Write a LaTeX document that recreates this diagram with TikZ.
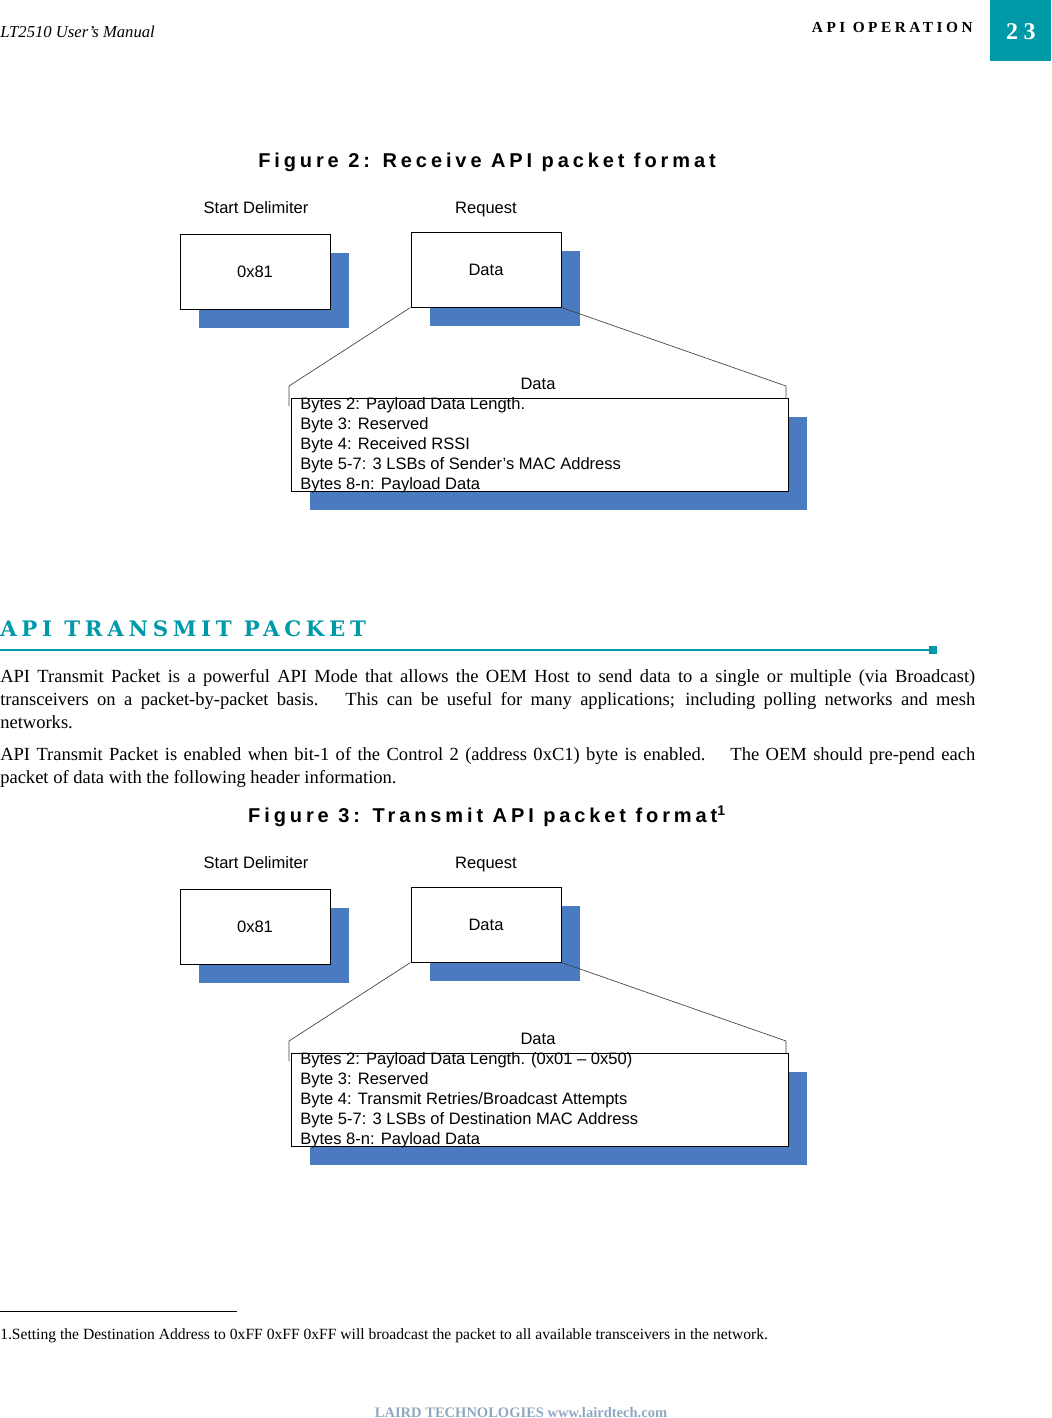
\documentclass[tikz,border=0pt]{standalone}
\usepackage{fontspec}
\setmainfont{Liberation Serif}
\setsansfont{Liberation Sans}
\newfontfamily\figtitlefont{Liberation Sans}[LetterSpace=19.5]
\newfontfamily\hdfont{Liberation Serif}[LetterSpace=23]
\newfontfamily\secfont{DejaVu Serif}[LetterSpace=22]
\definecolor{lairdteal}{RGB}{0,153,168}
\definecolor{shadowblue}{RGB}{74,123,193}
\definecolor{footgray}{RGB}{143,168,192}
\tikzset{
  shadowbox/.style={fill=shadowblue, draw=none, inner sep=0},
  whitebox/.style={fill=white, draw=black, line width=0.75pt, inner sep=0, font=\sffamily\fontsize{12.4}{15}\selectfont},
  lbl/.style={inner sep=0, font=\sffamily\fontsize{12.4}{15}\selectfont},
  conn/.style={draw=black!75, line width=0.5pt},
  figtitle/.style={inner sep=0, font=\figtitlefont\bfseries\fontsize{15}{18}\selectfont},
}
\newcommand\packetfig[4]{%
\begin{scope}[shift={(0,#2)}]
  \node[figtitle, anchor=base] (#1title) at (487,167) {#3};
  \node[lbl, anchor=base] (#1sdl) at (256,213) {Start Delimiter};
  \node[lbl, anchor=base] (#1rql) at (486,213) {Request};
  \node[shadowbox, minimum width=112.5pt, minimum height=56.25pt] (#1sdsh) at (274,290.5) {};
  \node[whitebox, minimum width=112.5pt, minimum height=56.25pt] (#1sd) at (255,271.5) {0x81};
  \node[shadowbox, minimum width=112.5pt, minimum height=56.25pt] (#1rqsh) at (505,288.5) {};
  \node[whitebox, minimum width=112.5pt, minimum height=56.25pt] (#1rq) at (486,269.5) {Data};
  \node[shadowbox, minimum width=372.75pt, minimum height=69.75pt] (#1bigsh) at (558.5,463.5) {};
  \node[whitebox, minimum width=372.75pt, minimum height=69.75pt] (#1big) at (539.5,444.5) {};
  \coordinate (#1lt) at (289,386);
  \coordinate (#1lb) at (289,406);
  \coordinate (#1rt) at (786,386);
  \coordinate (#1rb) at (786,398);
  \draw[conn] (#1rq.south west) -- (#1lt) -- (#1lb);
  \draw[conn] (#1rq.south east) -- (#1rt) -- (#1rb);
  \node[lbl, anchor=base] (#1datal) at (538,389) {Data};
  \foreach \t [count=\i] in {#4}
    \node[lbl, anchor=base west] (#1line\i) at (300,389+20*\i) {\t};
\end{scope}}
\begin{document}
\begin{tikzpicture}[x=0.75pt,y=-0.75pt]
\useasboundingbox (0,0) rectangle (1051,1418);
% header
\node[inner sep=0, anchor=base west, font=\itshape\fontsize{12.5}{14}\selectfont] (hl) at (0,37) {LT2510 User’s Manual};
\node[inner sep=0, anchor=base east, font=\hdfont\bfseries\fontsize{11.5}{14}\selectfont] (hr) at (973,32) {API OPERATION};
\node[fill=lairdteal, draw=none, inner sep=0, minimum width=45.75pt, minimum height=45.75pt] (pg) at (1020.5,30.5) {};
\node[inner sep=0, anchor=base, text=white, font=\hdfont\bfseries\fontsize{18}{20}\selectfont] (pgn) at (1021,39) {23};
% figure 2
\packetfig{a}{0}{Figure 2: Receive API packet format}{{Bytes 2: Payload Data Length.},{Byte 3: Reserved},{Byte 4: Received RSSI},{Byte 5-7: 3 LSBs of Sender’s MAC Address},{Bytes 8-n: Payload Data}}
% section heading
\node[inner sep=0, anchor=base west, text=lairdteal, font=\secfont\bfseries\fontsize{16}{19}\selectfont] (sec) at (0,636) {API TRANSMIT PACKET};
\coordinate (rule0) at (0,650);
\node[fill=lairdteal, inner sep=0, minimum size=6pt] (rulesq) at (933,650) {};
\draw[lairdteal, line width=1.6pt] (rule0) -- (rulesq.west);
% body text
\node[inner sep=0, anchor=base west] (p1) at (0,682) {\parbox[t]{731.25pt}{\fontsize{13.9}{17.25}\selectfont API Transmit Packet is a powerful API Mode that allows the OEM Host to send data to a single or multiple (via Broadcast)\linebreak transceivers on a packet-by-packet basis.\quad\ This can be useful for many applications; including polling networks and mesh\linebreak networks.}};
\node[inner sep=0, anchor=base west] (p2) at (0,760) {\parbox[t]{731.25pt}{\fontsize{13.9}{17.25}\selectfont API Transmit Packet is enabled when bit-1 of the Control 2 (address 0xC1) byte is enabled.\quad\ The OEM should pre-pend each\linebreak packet of data with the following header information.}};
% figure 3
\packetfig{b}{655}{Figure 3: Transmit API packet format\textsuperscript{1}}{{Bytes 2: Payload Data Length. (0x01 – 0x50)},{Byte 3: Reserved},{Byte 4: Transmit Retries/Broadcast Attempts},{Byte 5-7: 3 LSBs of Destination MAC Address},{Bytes 8-n: Payload Data}}
% footnote
\coordinate (fr0) at (0,1311);
\coordinate (fr1) at (237,1311);
\draw[line width=0.6pt] (fr0) -- (fr1);
\node[inner sep=0, anchor=base west, font=\fontsize{11.7}{13}\selectfont] (fn) at (0,1339) {1.Setting the Destination Address to 0xFF 0xFF 0xFF will broadcast the packet to all available transceivers in the network.};
% footer
\node[inner sep=0, anchor=base, text=footgray, font=\bfseries\fontsize{10.9}{12}\selectfont] (ft) at (521,1417) {LAIRD TECHNOLOGIES www.lairdtech.com};
\end{tikzpicture}
\end{document}
